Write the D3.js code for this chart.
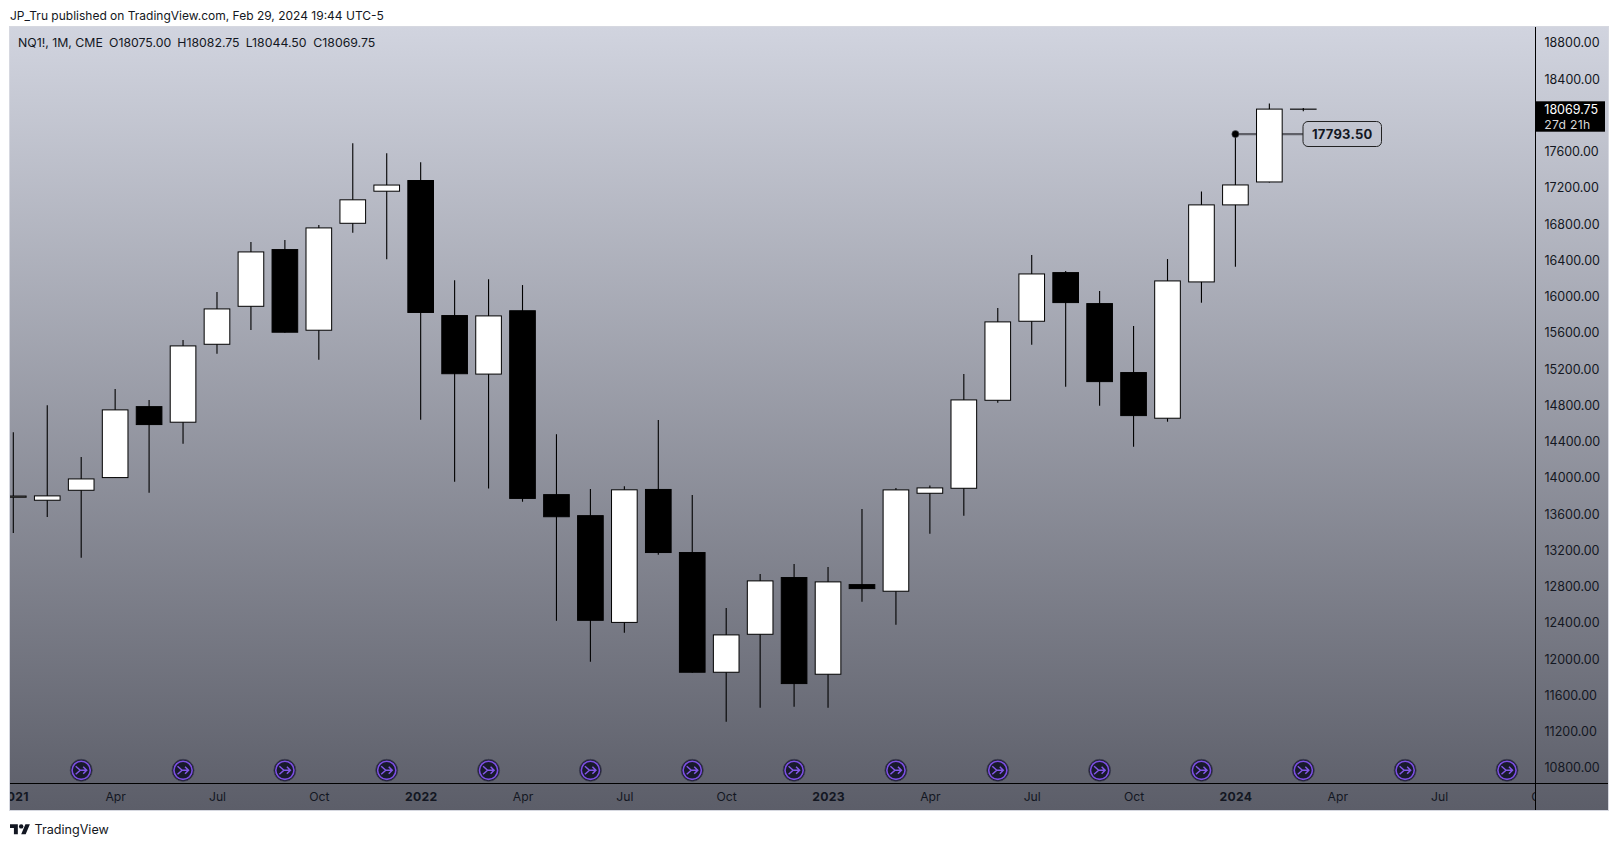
<!DOCTYPE html>
<html>
<head>
<meta charset="utf-8">
<title>NQ1! 1M</title>
<script src="https://cdn.jsdelivr.net/npm/d3@7/dist/d3.min.js"></script>
<style>
html,body{margin:0;padding:0;background:#fff;overflow:hidden}
svg{display:block}
text{font-family:Inter,"Liberation Sans",sans-serif;fill:#131722}
</style>
</head>
<body>
<svg id="c" width="1619" height="846"></svg>
<script>
const opens  = [13781,13748,13858,13998,14792,14609,15469,15888,16525,15624,16804,17158,17287,15797,15140,15850,13821,13589,12400,13878,13182,11850,12269,12906,11828,12828,12744,13825,13880,14851,15723,16271,15929,15168,14653,16157,17007,17260,18075];
const highs  = [14505,14803,14230,14980,14859,15521,16050,16602,16624,16790,17693,17583,17484,16181,16192,16128,14482,13878,13908,14638,13810,12564,12939,13049,13016,13656,13888,13917,15146,15874,16459,16282,16061,15675,16415,17161,17793.5,18132,18082.75];
const lows   = [13391,13568,13119,13998,13836,14377,15370,15631,15602,15304,16705,16413,14642,13958,13882,13737,12423,11970,12290,13152,11850,11309,11464,11475,11464,12634,12380,13384,13583,14829,15469,15006,14796,14344,14620,15933,16330,17260,18044.5];
const closes = [13805,13807,13994,14756,14583,15462,15870,16499,15602,16764,17074,17237,15820,15144,15793,13768,13566,12423,13874,13171,11850,12273,12869,11725,12858,12773,13873,13895,14866,15727,16256,15929,15057,14682,16179,17018,17238,18075,18069.75];

const priceTicks = [18800,18400,17600,17200,16800,16400,16000,15600,15200,14800,14400,14000,13600,13200,12800,12400,12000,11600,11200,10800];
const timeTickIdx = [0,3,6,9,12,15,18,21,24,27,30,33,36,39,42,45];
const timeTickLabels = ["2021","Apr","Jul","Oct","2022","Apr","Jul","Oct","2023","Apr","Jul","Oct","2024","Apr","Jul","Oct"];
const eventIdx = [2,5,8,11,14,17,20,23,26,29,32,35,38,41,44];
const lastPrice = 18069.75;
const countdown = "27d 21h";
const pivotIdx = 36;
const pivotPrice = 17793.5;
const publishedText = "JP_Tru published on TradingView.com, Feb 29, 2024 19:44 UTC-5";
const legendParts = ["NQ1!, 1M, CME","O18075.00","H18082.75","L18044.50","C18069.75"];

const L=10,R=1608,T=27,B=810,AX=1535.5,AY=783.5;
const svg=d3.select("#c");
const defs=svg.append("defs");
const grad=defs.append("linearGradient").attr("id","bg").attr("x1",0).attr("x2",0).attr("y1",0).attr("y2",1);
grad.append("stop").attr("offset",0).attr("stop-color","#d1d4df");
grad.append("stop").attr("offset",1).attr("stop-color","#5c5e69");
defs.append("clipPath").attr("id","pane").append("rect").attr("x",L).attr("y",T).attr("width",AX-L).attr("height",AY-T);
defs.append("clipPath").attr("id","timeclip").append("rect").attr("x",L).attr("y",AY).attr("width",AX-L).attr("height",B-AY);

svg.append("rect").attr("x",L).attr("y",T).attr("width",R-L).attr("height",B-T).attr("fill","url(#bg)");
svg.append("rect").attr("x",L-.5).attr("y",T-.5).attr("width",R-L+1).attr("height",B-T+1).attr("fill","none").attr("stroke","#d6d8e0");

const x=d3.scaleLinear().domain([0,38]).range([13.3,1303.3]);
const y=d3.scaleLinear().domain([18800,10800]).range([42.9,767.9]);
const bodyW=(x(1)-x(0))*0.785;

const pane=svg.append("g").attr("clip-path","url(#pane)");

// pivot label line
pane.append("line").attr("x1",x(pivotIdx)).attr("x2",1303).attr("y1",y(pivotPrice)).attr("y2",y(pivotPrice))
  .attr("stroke","#5f6068").attr("stroke-width",2.2);

const candles=d3.range(opens.length).map(i=>({i,o:opens[i],h:highs[i],l:lows[i],c:closes[i]}));
const g=pane.selectAll("g.candle").data(candles).join("g").attr("class","candle");
g.append("line").attr("x1",d=>x(d.i)).attr("x2",d=>x(d.i)).attr("y1",d=>y(d.h)).attr("y2",d=>y(d.l))
  .attr("stroke","#000").attr("stroke-width",1.1);
g.append("rect")
  .attr("x",d=>x(d.i)-bodyW/2+.5)
  .attr("width",bodyW-1)
  .attr("y",d=>y(Math.max(d.o,d.c))+.5)
  .attr("height",d=>Math.max(.1,y(Math.min(d.o,d.c))-y(Math.max(d.o,d.c))-1))
  .attr("fill",d=>d.c>=d.o?"#fff":"#000")
  .attr("stroke","#000").attr("stroke-width",1);

// pivot dot
pane.append("circle").attr("cx",x(pivotIdx)).attr("cy",y(pivotPrice)).attr("r",3.6).attr("fill","#000").attr("stroke","#55565f").attr("stroke-opacity",.6).attr("stroke-width",1);

// pivot label
pane.append("rect").attr("x",1303).attr("y",121.5).attr("width",78.5).attr("height",25).attr("rx",5)
  .attr("fill","none").attr("stroke","#222").attr("stroke-width",1);
pane.append("text").attr("x",1342.2).attr("y",y(pivotPrice)+.3).attr("text-anchor","middle").attr("dominant-baseline","central")
  .attr("font-size",13).attr("font-weight",700).attr("letter-spacing",.2).text(d3.format(".2f")(pivotPrice));

// event icons
const ev=pane.selectAll("g.ev").data(eventIdx).join("g").attr("class","ev").attr("transform",d=>`translate(${x(d)},770.3)`);
ev.append("circle").attr("r",11).attr("fill","#1b1b30").attr("stroke","#3f4050").attr("stroke-width",.8);
ev.append("circle").attr("r",9.1).attr("fill","#181a2c").attr("stroke","#7b4fe0").attr("stroke-width",1.6);
ev.append("path").attr("d","M-5.5,-4 L-1,0 L-5.5,4 M-1,0 H5.5 M2,-3.5 L5.5,0 L2,3.5").attr("fill","none").attr("stroke","#8257e6").attr("stroke-width",1.5);

// axes
const yAxis=d3.axisRight(y).tickValues(priceTicks).tickFormat(d3.format(".2f")).tickSize(0).tickPadding(9);
const ya=svg.append("g").attr("transform",`translate(${AX},0)`).call(yAxis);
ya.select(".domain").remove();
ya.selectAll("text").attr("font-size",12.5).attr("font-family",null);

const xAxis=d3.axisBottom(x).tickValues(timeTickIdx).tickFormat((d,i)=>timeTickLabels[i]).tickSize(0).tickPadding(9);
const xa=svg.append("g").attr("clip-path","url(#timeclip)").append("g").attr("transform",`translate(0,${AY})`).call(xAxis);
xa.select(".domain").remove();
xa.selectAll("text").attr("font-size",12.2).attr("font-family",null)
  .attr("font-weight",(d,i)=>/^\d/.test(timeTickLabels[i])?700:400)
  .attr("letter-spacing",(d,i)=>/^\d/.test(timeTickLabels[i])?.3:0);

svg.append("line").attr("x1",L).attr("x2",R).attr("y1",AY).attr("y2",AY).attr("stroke","#000");
svg.append("line").attr("x1",AX).attr("x2",AX).attr("y1",T).attr("y2",B).attr("stroke","#000");

// last price tag
svg.append("rect").attr("x",AX).attr("y",101.3).attr("width",69.5).attr("height",30.4).attr("fill","#000");
svg.append("text").attr("x",1544.3).attr("y",109).attr("dominant-baseline","central").attr("font-size",12.5).style("fill","#fff").text(d3.format(".2f")(lastPrice));
svg.append("text").attr("x",1544.3).attr("y",124).attr("dominant-baseline","central").attr("font-size",12.2).attr("letter-spacing",.3).style("fill","#d8d8d8").text(countdown);

// header
svg.append("text").attr("x",10).attr("y",15.5).attr("dominant-baseline","central").attr("font-size",12).text(publishedText);

// legend
const legX=[18,109,177.3,245.7,313.3];
svg.selectAll("text.leg").data(legendParts).join("text").attr("class","leg")
  .attr("x",(d,i)=>legX[i]).attr("y",42.5).attr("dominant-baseline","central").attr("font-size",12.3).text(d=>d);

// logo
const logo=svg.append("g").attr("transform","translate(10,821.9) scale(.56)");
logo.append("path").attr("d","M14 22H7V11H0V4h14v18zM28 22h-8l7.5-18h8L28 22z").attr("fill","#131722");
logo.append("circle").attr("cx",20).attr("cy",8).attr("r",4).attr("fill","#131722");
svg.append("text").attr("x",34.5).attr("y",829.3).attr("dominant-baseline","central").attr("font-size",12.6).text("TradingView");
</script>
</body>
</html>
